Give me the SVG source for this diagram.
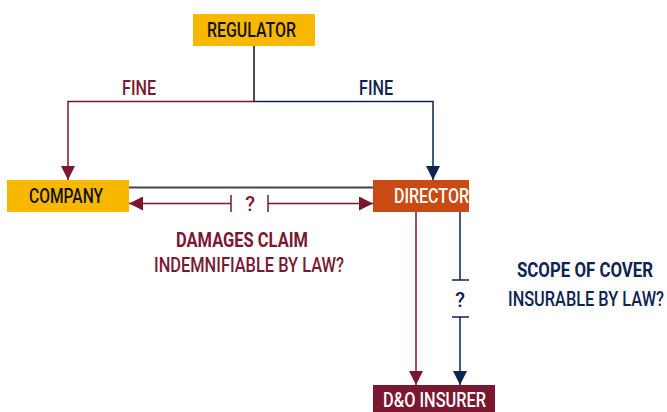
<svg xmlns="http://www.w3.org/2000/svg" width="667" height="412" viewBox="0 0 667 412">
<style>
text{font-family:Roboto,"Liberation Sans",sans-serif;font-size:20px;font-weight:500;}
.c{text-anchor:middle}
.b{font-weight:bold}
.blk{fill:#111}
.wht{fill:#fff}
.red{fill:#7A1832}
.navy{fill:#0D2350}
.lr{stroke:#7A1832;stroke-width:1.5;fill:none}
.ln{stroke:#0D2350;stroke-width:1.5;fill:none}
.lg{stroke:#444;stroke-width:2;fill:none}
.lk{stroke:#111;stroke-width:1.5;fill:none}
</style>
<defs>
<marker id="ar" viewBox="0 0 10 10" refX="10" refY="5" markerWidth="14" markerHeight="14" markerUnits="userSpaceOnUse" orient="auto"><path d="M0,0L10,5L0,10Z" fill="#7A1832"/></marker>
<marker id="an" viewBox="0 0 10 10" refX="10" refY="5" markerWidth="14" markerHeight="14" markerUnits="userSpaceOnUse" orient="auto"><path d="M0,0L10,5L0,10Z" fill="#0D2350"/></marker>
</defs>
<g id="connectors">
<path class="lk" d="M254,46V101.5"/>
<path class="lr" d="M254,101.5H68V180" marker-end="url(#ar)"/>
<path class="ln" d="M254,101.5H433V180" marker-end="url(#an)"/>
<path class="lg" d="M129,187.5H373"/>
<path class="lr" d="M231,203.5H129" marker-end="url(#ar)"/>
<path class="lr" d="M268,203.5H373" marker-end="url(#ar)"/>
<path class="lr" d="M231,195V212M268,195V212"/>
<text class="red c" x="250" y="211">?</text>
<text class="red c" x="139" y="95" textLength="34" lengthAdjust="spacingAndGlyphs">FINE</text>
<text class="navy c" x="376" y="95" textLength="34" lengthAdjust="spacingAndGlyphs">FINE</text>
<path class="lr" d="M416,212V385" marker-end="url(#ar)"/>
<path class="ln" d="M460,212V280M452,280H469M452,317H469M460,317V385" marker-end="url(#an)"/>
<text class="navy c" x="460" y="307">?</text>
<text class="red b" x="176" y="247" textLength="132" lengthAdjust="spacingAndGlyphs">DAMAGES CLAIM</text>
<text class="red" x="154" y="272" textLength="190" lengthAdjust="spacingAndGlyphs">INDEMNIFIABLE BY LAW?</text>
<text class="navy b" transform="translate(517,277) scale(0.8,1)" textLength="170" lengthAdjust="spacingAndGlyphs">SCOPE OF COVER</text>
<text class="navy" transform="translate(508,306) scale(0.8,1)" textLength="195" lengthAdjust="spacingAndGlyphs">INSURABLE BY LAW?</text>
</g>
<g id="regulator">
<rect x="193" y="14" width="122" height="32" fill="#F9B800"/>
<text class="blk" x="207" y="37" textLength="89" lengthAdjust="spacingAndGlyphs">REGULATOR</text>
</g>
<g id="company">
<rect x="7" y="180" width="122" height="32" fill="#F9B800"/>
<text class="blk" x="29" y="203" textLength="74" lengthAdjust="spacingAndGlyphs">COMPANY</text>
</g>
<g id="director">
<rect x="373" y="180" width="96" height="32" fill="#C94A13"/>
<text class="wht" x="394" y="203" textLength="75" lengthAdjust="spacingAndGlyphs">DIRECTOR</text>
</g>
<g id="insurer">
<rect x="373" y="385" width="122" height="30" fill="#7A1832"/>
<text class="wht" x="383" y="407" textLength="103" lengthAdjust="spacingAndGlyphs">D&amp;O INSURER</text>
</g>
</svg>
